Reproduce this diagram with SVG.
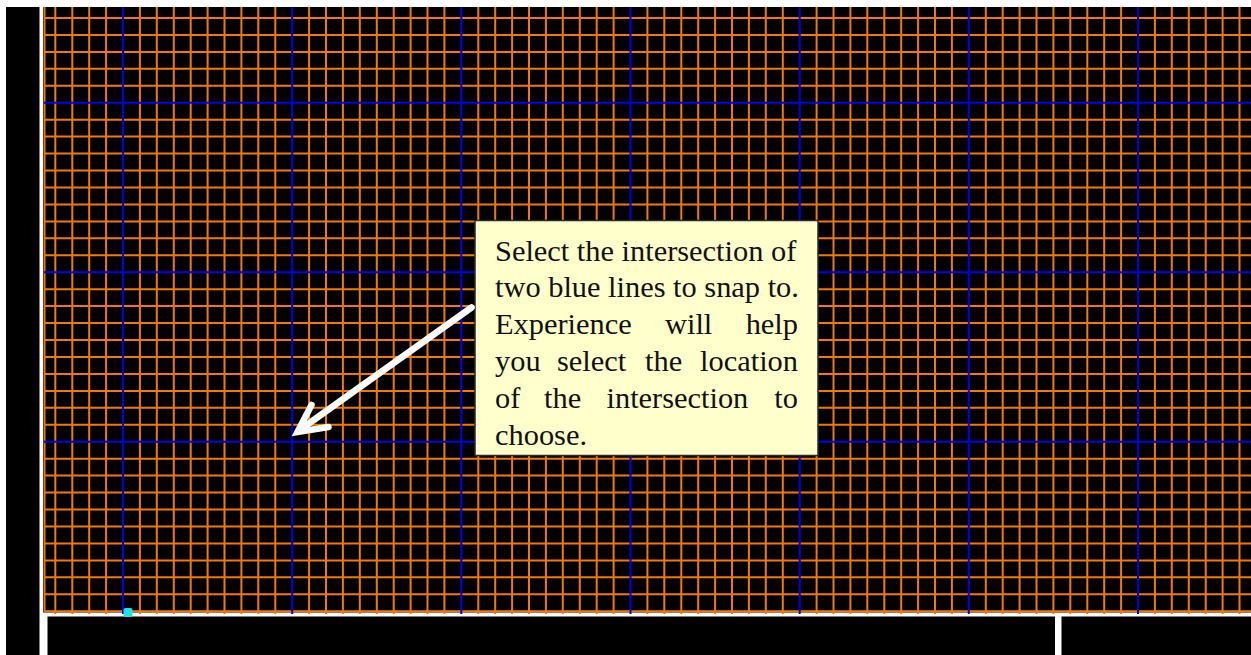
<svg xmlns="http://www.w3.org/2000/svg" width="1251" height="655" viewBox="0 0 1251 655">
<style>
.orange{fill:none;stroke:#f27a00;stroke-width:2}
.blue{fill:none;stroke:#0000e8;stroke-width:2}
.panel{fill:#000}
.callout{fill:#ffffcc;stroke:#2a2a2a;stroke-width:1.5}
.txt{font-family:"Liberation Serif","Times New Roman",serif;font-size:30.4px;fill:#111}
.arrow{fill:none;stroke:#fff;stroke-width:6.5;stroke-linecap:round;stroke-linejoin:miter}
</style>
<rect width="1251" height="655" fill="#fff"/>
<rect class="panel" x="6" y="7" width="33.5" height="648"/>
<rect class="panel" x="43" y="7" width="1208" height="605.5"/>
<rect class="panel" x="47.5" y="616.5" width="1007.5" height="38.5"/>
<rect class="panel" x="1061.5" y="616.5" width="189.5" height="38.5"/>
<g id="grid">
<path class="orange" d="M55.3 7V614M72.3 7V614M89.2 7V614M106.1 7V614M139.9 7V614M156.8 7V614M173.8 7V614M190.7 7V614M207.6 7V614M224.5 7V614M241.4 7V614M258.3 7V614M275.3 7V614M309.1 7V614M326 7V614M342.9 7V614M359.8 7V614M376.8 7V614M393.7 7V614M410.6 7V614M427.5 7V614M444.4 7V614M478.3 7V614M495.2 7V614M512.1 7V614M529 7V614M545.9 7V614M562.8 7V614M579.8 7V614M596.7 7V614M613.6 7V614M647.4 7V614M664.3 7V614M681.3 7V614M698.2 7V614M715.1 7V614M732 7V614M748.9 7V614M765.8 7V614M782.8 7V614M816.6 7V614M833.5 7V614M850.4 7V614M867.3 7V614M884.3 7V614M901.2 7V614M918.1 7V614M935 7V614M951.9 7V614M985.8 7V614M1002.7 7V614M1019.6 7V614M1036.5 7V614M1053.4 7V614M1070.3 7V614M1087.3 7V614M1104.2 7V614M1121.1 7V614M1154.9 7V614M1171.8 7V614M1188.8 7V614M1205.7 7V614M1222.6 7V614M1239.5 7V614"/>
<path class="orange" d="M44 18H1251M44 34.9H1251M44 51.9H1251M44 68.8H1251M44 85.8H1251M44 119.7H1251M44 136.6H1251M44 153.6H1251M44 170.5H1251M44 187.5H1251M44 204.4H1251M44 221.4H1251M44 238.3H1251M44 255.3H1251M44 289.2H1251M44 306.1H1251M44 323.1H1251M44 340H1251M44 357H1251M44 373.9H1251M44 390.9H1251M44 407.8H1251M44 424.8H1251M44 458.7H1251M44 475.6H1251M44 492.6H1251M44 509.5H1251M44 526.5H1251M44 543.4H1251M44 560.4H1251M44 577.3H1251M44 594.3H1251"/>
<path class="orange" d="M44.5 7V611.2H1251"/>
<path class="blue" d="M123 7V614M292.2 7V614M461.3 7V614M630.5 7V614M799.7 7V614M968.8 7V614M1138 7V614"/>
<path class="blue" d="M44 102.7H1251M44 272.2H1251M44 441.7H1251"/>
<rect x="123.5" y="608" width="9" height="9" rx="2" fill="#19e6e6"/>
</g>
<g id="callout">
<rect class="callout" x="475" y="220.5" width="343" height="235"/>
<text class="txt" x="495" y="260.5">Select the intersection of</text>
<text class="txt" x="495" y="297.3">two blue lines to snap to.</text>
<text class="txt" y="334.1"><tspan x="495">Experience</tspan><tspan x="665">will</tspan><tspan x="798" text-anchor="end">help</tspan></text>
<text class="txt" y="370.9"><tspan x="495">you</tspan><tspan x="557">select</tspan><tspan x="645">the</tspan><tspan x="798" text-anchor="end">location</tspan></text>
<text class="txt" y="407.7"><tspan x="495">of</tspan><tspan x="544">the</tspan><tspan x="606.5">intersection</tspan><tspan x="798" text-anchor="end">to</tspan></text>
<text class="txt" x="495" y="444.5">choose.</text>
</g>
<g id="connectors">
<path class="arrow" d="M471.5 307.5L299 430.5"/>
<path class="arrow" d="M311.5 405L297.5 432L328.5 427"/>
</g>
</svg>
